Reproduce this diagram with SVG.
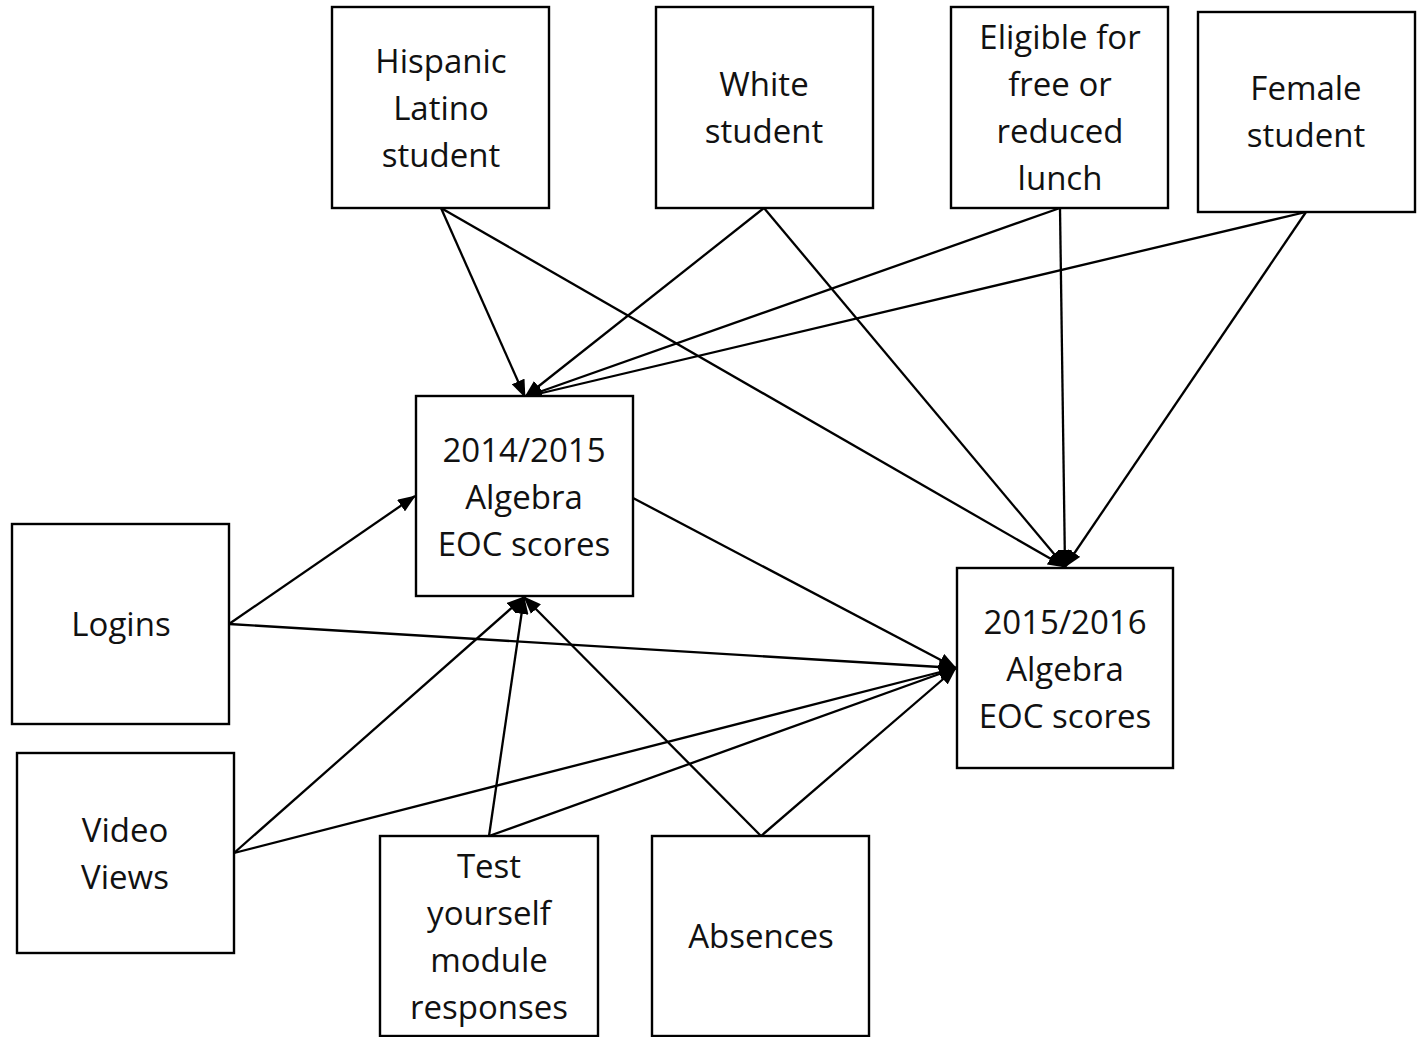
<svg xmlns="http://www.w3.org/2000/svg" width="1418" height="1037" viewBox="0 0 1418 1037">
<defs>
<style>
.box{fill:#fff;stroke:#000;stroke-width:2.4}
.t{font-family:"Open Sans","Noto Sans","Liberation Sans",sans-serif;font-size:33px;fill:#111;text-anchor:middle}
.c{stroke:#000;stroke-width:2.3;fill:none;marker-end:url(#ah)}
</style>
<marker id="ah" viewBox="0 0 18 14" refX="17" refY="7" markerWidth="18" markerHeight="14" markerUnits="userSpaceOnUse" orient="auto">
<path d="M0,0 L18,7 L0,14 Z" fill="#000"/>
</marker>
</defs>
<rect width="1418" height="1037" fill="#fff"/>
<g id="connectors">
<line class="c" x1="441" y1="208" x2="525" y2="397"/>
<line class="c" x1="441" y1="208" x2="1065" y2="567"/>
<line class="c" x1="764" y1="208" x2="525" y2="397"/>
<line class="c" x1="764" y1="208" x2="1065" y2="567"/>
<line class="c" x1="1060" y1="208" x2="525" y2="397"/>
<line class="c" x1="1060" y1="208" x2="1065" y2="567"/>
<line class="c" x1="1306" y1="212" x2="525" y2="397"/>
<line class="c" x1="1306" y1="212" x2="1065" y2="567"/>
<line class="c" x1="229" y1="624" x2="415" y2="496"/>
<line class="c" x1="229" y1="624" x2="956" y2="668"/>
<line class="c" x1="234" y1="853" x2="524" y2="597"/>
<line class="c" x1="234" y1="853" x2="956" y2="668"/>
<line class="c" x1="489" y1="836" x2="524" y2="597"/>
<line class="c" x1="489" y1="836" x2="956" y2="668"/>
<line class="c" x1="761" y1="836" x2="524" y2="597"/>
<line class="c" x1="761" y1="836" x2="956" y2="668"/>
<line class="c" x1="633" y1="498" x2="956" y2="668"/>
</g>
<g id="hispanic"><rect class="box" x="332" y="7" width="217" height="201"/>
<text class="t" x="441" y="73">Hispanic</text><text class="t" x="441" y="120">Latino</text><text class="t" x="441" y="167">student</text></g>
<g id="white"><rect class="box" x="656" y="7" width="217" height="201"/>
<text class="t" x="764" y="96">White</text><text class="t" x="764" y="143">student</text></g>
<g id="lunch"><rect class="box" x="951" y="7" width="217" height="201"/>
<text class="t" x="1060" y="49">Eligible for</text><text class="t" x="1060" y="96">free or</text><text class="t" x="1060" y="143">reduced</text><text class="t" x="1060" y="190">lunch</text></g>
<g id="female"><rect class="box" x="1198" y="12" width="217" height="200"/>
<text class="t" x="1306" y="100">Female</text><text class="t" x="1306" y="147">student</text></g>
<g id="eoc2014"><rect class="box" x="416" y="396" width="217" height="200"/>
<text class="t" x="524" y="462">2014/2015</text><text class="t" x="524" y="509">Algebra</text><text class="t" x="524" y="556">EOC scores</text></g>
<g id="eoc2015"><rect class="box" x="957" y="568" width="216" height="200"/>
<text class="t" x="1065" y="634">2015/2016</text><text class="t" x="1065" y="681">Algebra</text><text class="t" x="1065" y="728">EOC scores</text></g>
<g id="logins"><rect class="box" x="12" y="524" width="217" height="200"/>
<text class="t" x="121" y="636">Logins</text></g>
<g id="video"><rect class="box" x="17" y="753" width="217" height="200"/>
<text class="t" x="125" y="842">Video</text><text class="t" x="125" y="889">Views</text></g>
<g id="test"><rect class="box" x="380" y="836" width="218" height="200"/>
<text class="t" x="489" y="878">Test</text><text class="t" x="489" y="925">yourself</text><text class="t" x="489" y="972">module</text><text class="t" x="489" y="1019">responses</text></g>
<g id="absences"><rect class="box" x="652" y="836" width="217" height="200"/>
<text class="t" x="761" y="948">Absences</text></g>
</svg>
